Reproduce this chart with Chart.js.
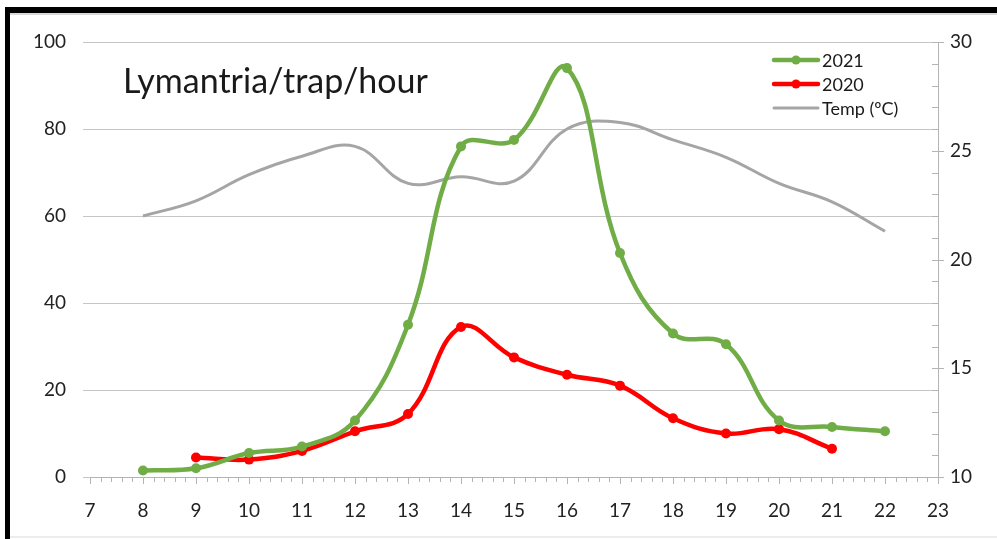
<!DOCTYPE html>
<html>
<head>
<meta charset="utf-8">
<script src="https://cdn.jsdelivr.net/npm/chart.js@4.4.1/dist/chart.umd.min.js"></script>
<style>
  html, body { margin: 0; padding: 0; background: #fff; }
  #wrap { position: absolute; left: 0; top: 0; width: 997px; height: 539px; }
  #frameTop { position: absolute; left: 5px; top: 7px; width: 992px; height: 6px; background: #000; }
  #frameTop2 { position: absolute; left: 10px; top: 13px; width: 987px; height: 2px; background: #d8d8d8; }
  #frameLeft { position: absolute; left: 5px; top: 7px; width: 5px; height: 532px; background: #000; }
  #frameBottom { position: absolute; left: 10px; top: 536px; width: 987px; height: 2px; background: #ececec; }
</style>
</head>
<body>
<div id="wrap"><canvas id="c" width="997" height="539"></canvas></div>
<div id="frameTop"></div>
<div id="frameTop2"></div>
<div id="frameLeft"></div>
<div id="frameBottom"></div>
<script>
// ---- data ----
const hours2021 = [8, 9, 10, 11, 12, 13, 14, 15, 16, 17, 18, 19, 20, 21, 22];
const lym2021   = [1.5, 2, 5.5, 7, 13, 35, 76, 77.5, 94, 51.5, 33, 30.5, 13, 11.5, 10.5];
const hours2020 = [9, 10, 11, 12, 13, 14, 15, 16, 17, 18, 19, 20, 21];
const lym2020   = [4.5, 4, 6, 10.5, 14.5, 34.5, 27.5, 23.5, 21, 13.5, 10, 11, 6.5];
const hoursTemp = [8, 9, 10, 11, 12, 13, 14, 15, 16, 17, 18, 19, 20, 21, 22];
const temp      = [22.0, 22.7, 23.9, 24.75, 25.2, 23.5, 23.8, 23.6, 26.0, 26.3, 25.5, 24.7, 23.5, 22.65, 21.3];
const seriesLabels = ['2021', '2020', 'Temp (ºC)'];
const titleText = 'Lymantria/trap/hour';
const xMin = 7, xMax = 23;
const yMin = 0, yMax = 100, yStep = 20;
const y2Min = 10, y2Max = 30, y2Step = 5;

const pairs = (xs, ys) => xs.map((x, i) => ({ x: x, y: ys[i] }));

const FONT = 'Lato, Carlito, "Open Sans", sans-serif';
const GRID = '#c6c6c6';
const AXIS = '#b4b4b4';

const minorTicks = {
  id: 'minorTicks',
  beforeDatasetsDraw(chart) {
    const ctx = chart.ctx;
    const xs = chart.scales.x, yr = chart.scales.y1;
    ctx.save();
    ctx.strokeStyle = AXIS;
    ctx.lineWidth = 1;
    ctx.beginPath();
    for (let v = xMin; v <= xMax + 1e-9; v += 0.2) {
      const r = Math.round(v * 10) / 10;
      if (Math.abs(r - Math.round(r)) < 1e-6) continue;
      const px = Math.round(xs.getPixelForValue(r)) + 0.5;
      ctx.moveTo(px, xs.top);
      ctx.lineTo(px, xs.top + 5);
    }
    for (let v = y2Min; v <= y2Max; v += 1) {
      const py = Math.round(yr.getPixelForValue(v)) + 0.5;
      const major = v % y2Step === 0;
      ctx.moveTo(yr.left - 6, py);
      ctx.lineTo(major ? yr.left + 6 : yr.left, py);
    }
    ctx.stroke();
    ctx.restore();
  }
};

const overlay = {
  id: 'overlay',
  afterDraw(chart) {
    const ctx = chart.ctx;
    ctx.save();
    ctx.fillStyle = '#1a1a1a';
    ctx.font = '34px ' + FONT;
    ctx.textBaseline = 'alphabetic';
    ctx.textAlign = 'left';
    ctx.fillText(titleText, 123, 93);
    const ds = chart.data.datasets;
    const lx0 = 774, lx1 = 818, rows = [60, 84, 108];
    ctx.font = '18px ' + FONT;
    ctx.textBaseline = 'middle';
    ds.forEach((d, i) => {
      const y = rows[i];
      ctx.strokeStyle = d.borderColor;
      ctx.lineWidth = d.borderWidth;
      ctx.lineCap = 'round';
      ctx.beginPath();
      ctx.moveTo(lx0, y);
      ctx.lineTo(lx1, y);
      ctx.stroke();
      if (d.pointRadius > 0) {
        ctx.fillStyle = d.borderColor;
        ctx.beginPath();
        ctx.arc((lx0 + lx1) / 2, y, 4.5, 0, Math.PI * 2);
        ctx.fill();
      }
      ctx.fillStyle = '#1a1a1a';
      ctx.fillText(d.label, lx1 + 4, y + 1);
    });
    ctx.restore();
  }
};

new Chart(document.getElementById('c'), {
  type: 'line',
  data: {
    datasets: [
      {
        label: seriesLabels[0], data: pairs(hours2021, lym2021), yAxisID: 'y',
        borderColor: '#70AD47', backgroundColor: '#70AD47', borderWidth: 4.5,
        pointRadius: 5, pointBackgroundColor: '#70AD47', pointBorderWidth: 0,
        tension: 0.4, fill: false
      },
      {
        label: seriesLabels[1], data: pairs(hours2020, lym2020), yAxisID: 'y',
        borderColor: '#FF0000', backgroundColor: '#FF0000', borderWidth: 4.5,
        pointRadius: 5, pointBackgroundColor: '#FF0000', pointBorderWidth: 0,
        tension: 0.4, fill: false
      },
      {
        label: seriesLabels[2], data: pairs(hoursTemp, temp), yAxisID: 'y1',
        borderColor: '#A5A5A5', backgroundColor: '#A5A5A5', borderWidth: 3,
        pointRadius: 0, tension: 0.4, fill: false
      }
    ]
  },
  options: {
    responsive: false,
    animation: false,
    devicePixelRatio: 1,
    layout: { padding: { top: 42, left: 0, right: 0, bottom: 0 } },
    plugins: { legend: { display: false }, tooltip: { enabled: false } },
    scales: {
      x: {
        type: 'linear', min: xMin, max: xMax,
        afterFit: s => { s.height = 62; },
        ticks: { stepSize: 1, color: '#222', font: { family: FONT, size: 19 }, padding: 15 },
        grid: { drawOnChartArea: false, drawTicks: true, tickLength: 7, color: AXIS },
        border: { display: true, color: AXIS, width: 1 }
      },
      y: {
        position: 'left', min: yMin, max: yMax,
        afterFit: s => { s.width = 90; },
        ticks: { stepSize: yStep, color: '#222', font: { family: FONT, size: 19 }, padding: 17 },
        grid: { color: GRID, drawTicks: true, tickLength: 7 },
        border: { display: false }
      },
      y1: {
        position: 'right', min: y2Min, max: y2Max,
        afterFit: s => { s.width = 59; },
        ticks: { stepSize: y2Step, color: '#222', font: { family: FONT, size: 19 }, padding: 12 },
        grid: { drawOnChartArea: false, drawTicks: false },
        border: { display: true, color: AXIS, width: 1 }
      }
    }
  },
  plugins: [minorTicks, overlay]
});
</script>
</body>
</html>
